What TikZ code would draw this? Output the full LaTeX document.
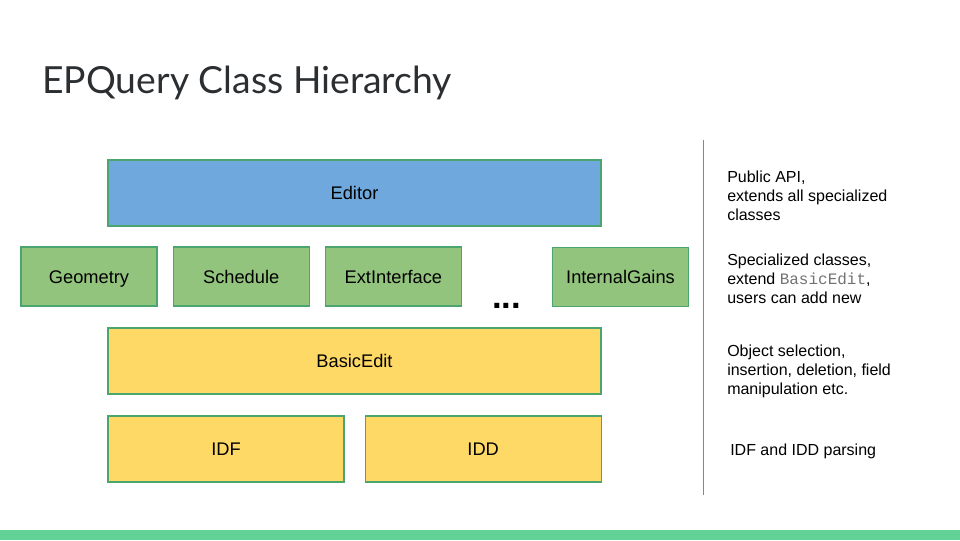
\documentclass[tikz,border=0pt]{standalone}
\usepackage{fontspec}
\setmainfont{Liberation Sans}
\setmonofont{Liberation Mono}
\newfontfamily\titlefont{Lato}
\usetikzlibrary{positioning}
\definecolor{editorblue}{HTML}{6FA8DC}
\definecolor{classgreen}{HTML}{93C47D}
\definecolor{baseyellow}{HTML}{FFD966}
\definecolor{boxborder}{HTML}{4CA56E}
\definecolor{bargreen}{HTML}{62D296}
\definecolor{rulegreen}{HTML}{5E9E7C}
\definecolor{titlegray}{HTML}{2B2F31}
\tikzset{
    classbox/.style={draw=boxborder, line width=0.9pt, inner sep=0pt, minimum height=49.5pt, text height=9.8pt, text depth=0pt, font=\fontsize{13.7}{16}\selectfont}, % every class box
    widebox/.style={classbox, minimum width=369.75pt},
    subbox/.style={classbox, minimum width=102pt, minimum height=44.25pt, fill=classgreen},
    parsebox/.style={classbox, minimum width=177pt, fill=baseyellow},
    note/.style={anchor=north west, align=left, inner sep=0pt, font=\fontsize{12}{14.25}\selectfont},
}

\begin{document}
\begin{tikzpicture}[x=0.75pt, y=-0.75pt, node distance=11.25pt]
    \useasboundingbox (0,0) rectangle (960,540);
    \node[anchor=base west, inner sep=0pt, text=titlegray, font=\titlefont\fontsize{28}{34}\selectfont] (title) at (42,93) {EPQuery Class Hierarchy};

    % hierarchy
    \node[widebox, fill=editorblue] (editor) at (354.5,193) {Editor};
    \node[subbox] (geometry) at (89,276.5) {Geometry};
    \node[subbox] (schedule) [right=of geometry] {Schedule};
    \node[subbox] (extinterface) [right=of schedule] {ExtInterface};
    \node[subbox] (internalgains) at (620.5,277) {InternalGains};
    \node[inner sep=0pt, font=\fontsize{26}{26}\selectfont\bfseries] (dots) at (506.5,305.5) {...};
    \node[widebox, fill=baseyellow] (basicedit) at (354.5,361) {BasicEdit};
    \node[parsebox] (idf) at (226,449) {IDF};
    \node[parsebox] (idd) [right=15pt of idf] {IDD};

    % notes
    \draw[rulegreen, line width=0.75pt] (703,140) -- (703,495);
    \node[note] (apinote) at (727,170.5) {Public API,\\extends all specialized\\classes};
    \node[note] (specnote) at (727,253.5) {Specialized classes,\\extend {\fontsize{12}{14.25}\ttfamily\color{black!55}BasicEdit},\\users can add new};
    \node[note] (basenote) at (727,344.5) {Object selection,\\insertion, deletion, field\\manipulation etc.};
    \node[note] (parsenote) at (730,443.5) {IDF and IDD parsing};

    \fill[bargreen] (0,530) rectangle (960,540);
\end{tikzpicture}
\end{document}
